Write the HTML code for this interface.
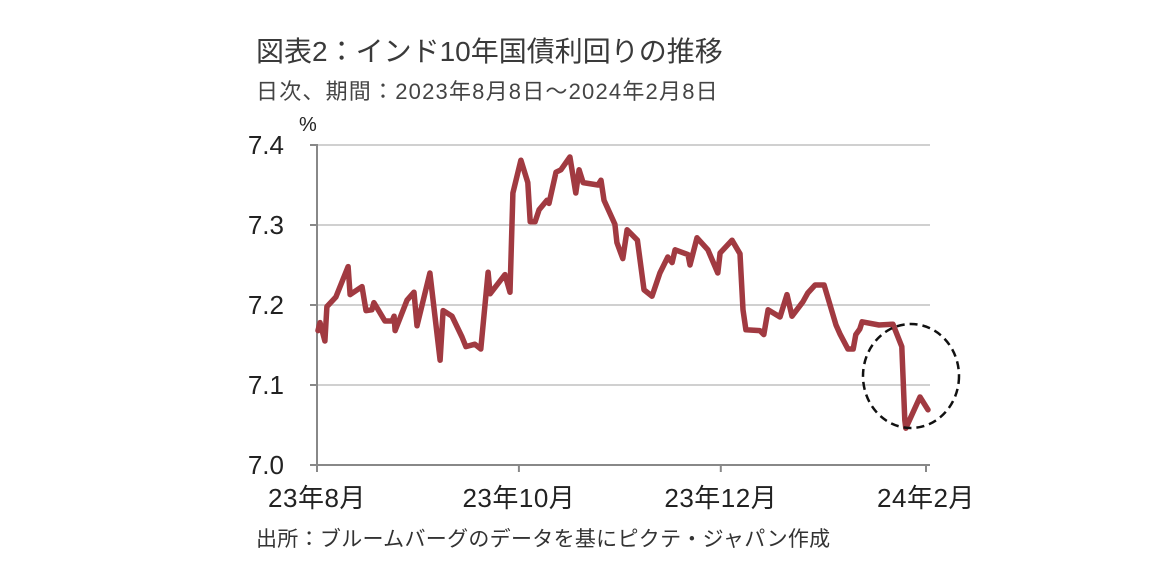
<!DOCTYPE html>
<html><head><meta charset="utf-8">
<style>
body{margin:0;background:#fff;width:1152px;height:580px;overflow:hidden;font-family:"Liberation Sans","Noto Sans CJK JP",sans-serif;}
.t{position:absolute;white-space:nowrap;color:#222;}
</style></head>
<body>
<div class="t" style="left:256px;top:34px;font-size:28px;line-height:36px;color:#3a3a3a;">図表2：インド10年国債利回りの推移</div>
<div class="t" style="left:256px;top:78px;font-size:22px;line-height:28px;letter-spacing:1.2px;color:#444;">日次、期間：2023年8月8日～2024年2月8日</div>
<div class="t" style="left:256px;top:526px;font-size:21px;line-height:28px;letter-spacing:0.3px;color:#333;">出所：ブルームバーグのデータを基にピクテ・ジャパン作成</div>
<svg id="chart" width="1152" height="580" style="position:absolute;left:0;top:0"></svg>
<script>
const days=[0.3,0.9,2.4,3.0,5.7,9.4,10.0,13.6,14.8,16.6,17.2,20.5,22.7,23.3,23.6,27.2,29.3,30.2,34.1,37.2,38.1,40.8,43.8,45.0,47.7,49.5,51.7,52.3,55.3,56.8,58.3,59.2,61.6,63.7,64.4,65.9,67.1,69.5,70.1,72.2,73.7,76.4,78.2,79.2,80.4,84.9,85.8,86.7,90.0,90.6,92.4,93.7,96.8,98.8,101.2,103.6,106.0,107.3,108.2,112.1,112.7,114.8,118.1,121.1,121.8,125.4,127.8,128.7,129.6,133.8,135.0,136.3,139.9,142.0,143.5,146.8,148.3,150.5,153.2,156.8,158.0,160.4,162.0,162.8,164.0,164.7,169.8,174.0,176.7,177.6,177.9,182.2,184.6];
const yields=[7.168,7.178,7.155,7.198,7.21,7.248,7.213,7.223,7.193,7.194,7.203,7.18,7.18,7.186,7.168,7.206,7.216,7.174,7.24,7.131,7.193,7.186,7.16,7.148,7.151,7.145,7.241,7.214,7.23,7.238,7.216,7.34,7.381,7.353,7.304,7.304,7.319,7.331,7.327,7.366,7.369,7.385,7.34,7.369,7.353,7.35,7.356,7.331,7.301,7.278,7.258,7.294,7.281,7.219,7.211,7.24,7.26,7.253,7.269,7.263,7.25,7.284,7.269,7.24,7.265,7.281,7.264,7.194,7.169,7.168,7.163,7.194,7.185,7.213,7.186,7.204,7.215,7.225,7.225,7.175,7.164,7.145,7.145,7.163,7.17,7.179,7.175,7.176,7.148,7.056,7.046,7.085,7.069];
const yTicks=[7.0,7.1,7.2,7.3,7.4];
const yTickLabels=["7.0","7.1","7.2","7.3","7.4"];
const xTickDays=[0,61,122,184];
const xTickLabels=["23年8月","23年10月","23年12月","24年2月"];
const NS="http://www.w3.org/2000/svg";
const svg=document.getElementById('chart');
const X=d=>317+d*(609/184);
const Y=v=>465-(v-7.0)*800;
function mk(tag,attrs){const e=document.createElementNS(NS,tag);for(const k in attrs)e.setAttribute(k,attrs[k]);svg.appendChild(e);return e;}
yTicks.forEach((v,i)=>{
  if(i>0){const g=mk('line',{x1:317,x2:930,y1:Y(v),y2:Y(v),stroke:'#d0d0d0','stroke-width':2});
  
  }
  const tk=mk('line',{x1:310,x2:317,y1:Y(v),y2:Y(v),stroke:'#888','stroke-width':2});
  
  
  const t=mk('text',{x:284,y:Y(v)+9,'text-anchor':'end','font-size':26,fill:'#222','font-family':'Liberation Sans, sans-serif'});
  t.textContent=yTickLabels[i];
  
  
});
const ya=mk('line',{x1:317,x2:317,y1:Y(7.4)-1,y2:Y(7.0),stroke:'#888','stroke-width':2});


const xa=mk('line',{x1:317,x2:930,y1:Y(7.0),y2:Y(7.0),stroke:'#888','stroke-width':2});


xTickDays.forEach((d,i)=>{
  const tk=mk('line',{x1:X(d),x2:X(d),y1:465,y2:472,stroke:'#888','stroke-width':2});
  
  
  const t=mk('text',{x:X(d),y:507,'text-anchor':'middle','font-size':26,'letter-spacing':'0.5',fill:'#222','font-family':'Liberation Sans, Noto Sans CJK JP, sans-serif'});
  t.textContent=xTickLabels[i];
  
  
});
const pct=mk('text',{x:299,y:131,'font-size':20,fill:'#222','font-family':'Liberation Sans, sans-serif'});
pct.textContent='%';


const pts=days.map((d,i)=>X(d).toFixed(1)+','+Y(yields[i]).toFixed(1)).join(' ');
const line=mk('polyline',{points:pts,fill:'none',stroke:'#a13a41','stroke-width':5.5,'stroke-linejoin':'round','stroke-linecap':'round'});


const c=mk('ellipse',{cx:911,cy:376,rx:48,ry:52,fill:'none',stroke:'#111','stroke-width':2.5,'stroke-dasharray':'8,5'});


</script>
</body></html>
